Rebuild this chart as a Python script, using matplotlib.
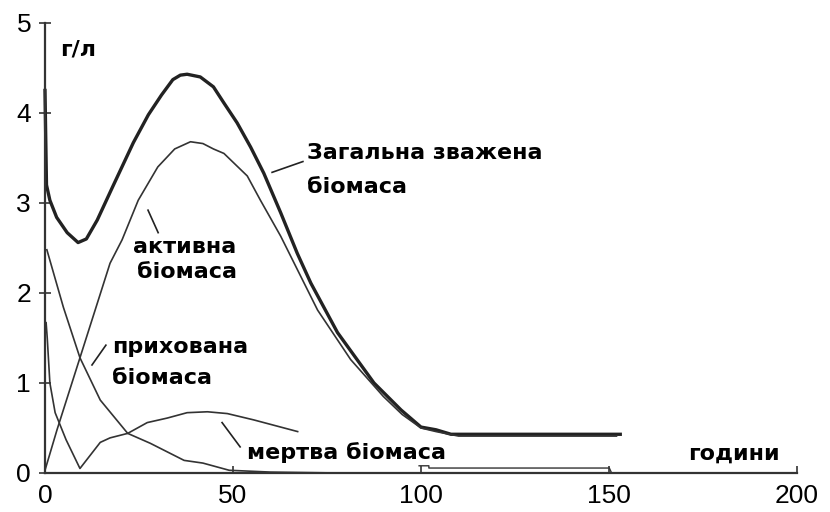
import matplotlib.pyplot as plt

# Curves (hours, g/l)
total_x = [0, 0.4, 1.3, 3.1, 5.9, 8.8, 11, 13.9, 18, 23.5, 27.5, 31, 34, 36, 37.8, 41.3, 44.8, 47.6, 51.1,
           54.7, 58.2, 62.7, 67.1, 70.7, 77.8, 87.5, 94.7, 100, 104, 108, 153]
total_y = [4.25, 3.2, 3.03, 2.84, 2.67, 2.56, 2.6, 2.81, 3.18, 3.67, 3.98, 4.2, 4.37, 4.42, 4.43, 4.4, 4.29, 4.11, 3.89,
           3.62, 3.33, 2.89, 2.44, 2.11, 1.56, 1.0, 0.7, 0.51, 0.48, 0.43, 0.43]

active_x = [0, 3.2, 9.3, 17.3, 20.5, 24.8, 30, 34.5, 38.7, 42, 44.8, 47.6, 53.8, 57.3, 62.7, 72.5, 81.3, 90, 95,
            100, 104, 110, 152]
active_y = [0.03, 0.48, 1.28, 2.33, 2.59, 3.03, 3.4, 3.6, 3.68, 3.66, 3.6, 3.55, 3.3, 3.03, 2.63, 1.81, 1.26, 0.85, 0.65,
            0.5, 0.46, 0.41, 0.41]

hidden_x = [0.5, 4.9, 9.3, 14.7, 22, 28, 37, 42, 49, 60, 78]
hidden_y = [2.48, 1.84, 1.28, 0.81, 0.44, 0.33, 0.14, 0.11, 0.03, 0.01, 0.0]

dead_x = [0.3, 0.6, 1.3, 2.7, 5.6, 9.3, 14.7, 17.3, 22, 27.2, 32.5, 37.8, 43.2, 48.5, 55.5, 67.2]
dead_y = [1.67, 1.5, 1.0, 0.67, 0.37, 0.05, 0.34, 0.39, 0.44, 0.56, 0.61, 0.67, 0.68, 0.66, 0.59, 0.46]

tail_x = [99.5, 102.1, 102.1, 150.1, 150.7]
tail_y = [0.08, 0.08, 0.055, 0.055, 0.0]

x_ticks = [0, 50, 100, 150, 200]
y_ticks = [0, 1, 2, 3, 4, 5]

ink = '#222222'

fig = plt.figure(figsize=(8.3, 5.12), dpi=100)
ax = fig.add_axes([0.0542, 0.0762, 0.906, 0.879])

ax.plot(total_x, total_y, color=ink, lw=2.4, clip_on=False)
ax.plot(active_x, active_y, color='#333333', lw=1.2, clip_on=False)
ax.plot(hidden_x, hidden_y, color='#333333', lw=1.2, clip_on=False)
ax.plot(dead_x, dead_y, color='#333333', lw=1.2, clip_on=False)
ax.plot(tail_x, tail_y, color='#333333', lw=1.0, clip_on=False)

ax.set_xlim(0, 200)
ax.set_ylim(0, 5)
ax.set_xticks(x_ticks)
ax.set_yticks(y_ticks)

for s in ['top', 'right']:
    ax.spines[s].set_visible(False)
for s in ['left', 'bottom']:
    ax.spines[s].set_color('#333333')
    ax.spines[s].set_linewidth(1.6)

ax.tick_params(axis='x', direction='in', length=5, width=1.2, color='#333333', pad=8)
ax.tick_params(axis='y', direction='inout', length=8, width=1.2, color='#333333', pad=6)
for lab in ax.get_xticklabels() + ax.get_yticklabels():
    lab.set_fontfamily('Liberation Sans')
    lab.set_fontsize(19)

lbl = dict(fontsize=16, fontweight='bold', family='DejaVu Sans', color='black', va='center', ha='left')
ax.text(4, 4.7, 'г/л', **lbl)
ax.text(69.7, 3.56, 'Загальна зважена', **lbl)
ax.text(69.7, 3.18, 'біомаса', **lbl)
ax.text(23.4, 2.51, 'активна', **lbl)
ax.text(24.5, 2.23, 'біомаса', **lbl)
ax.text(17.8, 1.4, 'прихована', **lbl)
ax.text(17.8, 1.06, 'біомаса', **lbl)
ax.text(53.7, 0.23, 'мертва біомаса', **lbl)
ax.text(171, 0.22, 'години', **lbl)

# leader lines from labels to curves
leaders = [((60.4, 3.34), (68.6, 3.46)),
           ((27.4, 2.92), (30.1, 2.67)),
           ((12.5, 1.2), (16.2, 1.42)),
           ((47.1, 0.56), (51.9, 0.29))]
for (x0, y0), (x1, y1) in leaders:
    ax.plot([x0, x1], [y0, y1], color=ink, lw=1.2)

fig.savefig('out.png', dpi=100)
